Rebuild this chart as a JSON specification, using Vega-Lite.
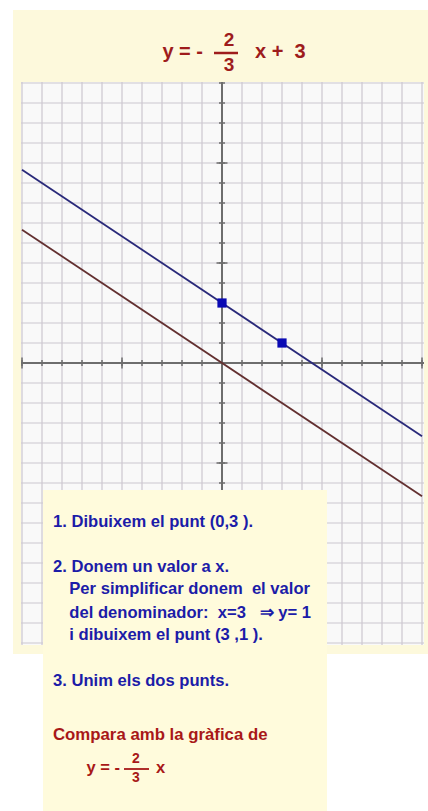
{
  "$schema": "https://vega.github.io/schema/vega-lite/v6.json",
  "width": 428,
  "height": 811,
  "padding": 0,
  "autosize": {"type": "fit", "contains": "padding"},
  "background": "#ffffff",
  "config": {"view": {"stroke": null}, "text": {"font": "Liberation Sans", "fontWeight": "bold"}},
  "datasets": {
    "gx": [{"v": -10}, {"v": -9}, {"v": -8}, {"v": -7}, {"v": -6}, {"v": -5}, {"v": -4}, {"v": -3}, {"v": -2}, {"v": -1}, {"v": 0}, {"v": 1}, {"v": 2}, {"v": 3}, {"v": 4}, {"v": 5}, {"v": 6}, {"v": 7}, {"v": 8}, {"v": 9}, {"v": 10}],
    "gy": [{"v": -14}, {"v": -13}, {"v": -12}, {"v": -11}, {"v": -10}, {"v": -9}, {"v": -8}, {"v": -7}, {"v": -6}, {"v": -5}, {"v": -4}, {"v": -3}, {"v": -2}, {"v": -1}, {"v": 0}, {"v": 1}, {"v": 2}, {"v": 3}, {"v": 4}, {"v": 5}, {"v": 6}, {"v": 7}, {"v": 8}, {"v": 9}, {"v": 10}, {"v": 11}, {"v": 12}, {"v": 13}, {"v": 14}],
    "lines": [
      {"s": "y = -2/3 x + 3", "x": -10, "y": 9.6667},
      {"s": "y = -2/3 x + 3", "x": 10, "y": -3.6667},
      {"s": "y = -2/3 x", "x": -10, "y": 6.6667},
      {"s": "y = -2/3 x", "x": 10, "y": -6.6667}
    ],
    "pts": [{"x": 0, "y": 3}, {"x": 3, "y": 1}]
  },
  "layer": [
    {
      "data": {"values": [{}]},
      "mark": {"type": "rect", "color": "#fdf9dc"},
      "encoding": {
        "x": {"datum": -10.45, "type": "quantitative", "axis": null, "scale": {"domain": [-11.1, 10.3], "nice": false, "zero": false}},
        "x2": {"datum": 10.3},
        "y": {"datum": 17.65, "type": "quantitative", "axis": null, "scale": {"domain": [-22.4, 18.15], "nice": false, "zero": false}},
        "y2": {"datum": -14.55}
      }
    },
    {
      "data": {"values": [{}]},
      "mark": {"type": "rect", "color": "#f9f9f9"},
      "encoding": {
        "x": {"datum": -10.05, "type": "quantitative", "axis": null, "scale": {"domain": [-11.1, 10.3], "nice": false, "zero": false}},
        "x2": {"datum": 10.1},
        "y": {"datum": 14.05, "type": "quantitative", "axis": null, "scale": {"domain": [-22.4, 18.15], "nice": false, "zero": false}},
        "y2": {"datum": -14.1}
      }
    },
    {
      "data": {"name": "gx"},
      "mark": {"type": "rule", "color": "#ccc7cf", "strokeWidth": 1.2},
      "encoding": {
        "x": {"field": "v", "type": "quantitative", "axis": null, "scale": {"domain": [-11.1, 10.3], "nice": false, "zero": false}},
        "y": {"datum": 14.05, "type": "quantitative", "axis": null, "scale": {"domain": [-22.4, 18.15], "nice": false, "zero": false}},
        "y2": {"datum": -14.1}
      }
    },
    {
      "data": {"name": "gy"},
      "mark": {"type": "rule", "color": "#ccc7cf", "strokeWidth": 1.2},
      "encoding": {
        "y": {"field": "v", "type": "quantitative", "axis": null, "scale": {"domain": [-22.4, 18.15], "nice": false, "zero": false}},
        "x": {"datum": -10.05, "type": "quantitative", "axis": null, "scale": {"domain": [-11.1, 10.3], "nice": false, "zero": false}},
        "x2": {"datum": 10.1}
      }
    },
    {
      "data": {"values": [{}]},
      "mark": {"type": "rule", "color": "#6e6e6e", "strokeWidth": 2},
      "encoding": {
        "x": {"datum": -10.05, "type": "quantitative", "axis": null, "scale": {"domain": [-11.1, 10.3], "nice": false, "zero": false}},
        "x2": {"datum": 10.1},
        "y": {"datum": 0, "type": "quantitative", "axis": null, "scale": {"domain": [-22.4, 18.15], "nice": false, "zero": false}}
      }
    },
    {
      "data": {"values": [{}]},
      "mark": {"type": "rule", "color": "#6e6e6e", "strokeWidth": 2},
      "encoding": {
        "x": {"datum": 0, "type": "quantitative", "axis": null, "scale": {"domain": [-11.1, 10.3], "nice": false, "zero": false}},
        "y": {"datum": 14.05, "type": "quantitative", "axis": null, "scale": {"domain": [-22.4, 18.15], "nice": false, "zero": false}},
        "y2": {"datum": -14.1}
      }
    },
    {
      "data": {"name": "gx"},
      "mark": {"type": "tick", "orient": "vertical", "color": "#6e6e6e", "size": 6, "thickness": 1.5, "opacity": 1},
      "encoding": {
        "x": {"field": "v", "type": "quantitative", "axis": null, "scale": {"domain": [-11.1, 10.3], "nice": false, "zero": false}},
        "y": {"datum": 0, "type": "quantitative", "axis": null, "scale": {"domain": [-22.4, 18.15], "nice": false, "zero": false}}
      }
    },
    {
      "data": {"name": "gx"},
      "transform": [{"filter": "datum.v % 5 === 0"}],
      "mark": {"type": "tick", "orient": "vertical", "color": "#6e6e6e", "size": 11, "thickness": 1.5, "opacity": 1},
      "encoding": {
        "x": {"field": "v", "type": "quantitative", "axis": null, "scale": {"domain": [-11.1, 10.3], "nice": false, "zero": false}},
        "y": {"datum": 0, "type": "quantitative", "axis": null, "scale": {"domain": [-22.4, 18.15], "nice": false, "zero": false}}
      }
    },
    {
      "data": {"name": "gy"},
      "mark": {"type": "tick", "orient": "horizontal", "color": "#6e6e6e", "size": 6, "thickness": 1.5, "opacity": 1},
      "encoding": {
        "y": {"field": "v", "type": "quantitative", "axis": null, "scale": {"domain": [-22.4, 18.15], "nice": false, "zero": false}},
        "x": {"datum": 0, "type": "quantitative", "axis": null, "scale": {"domain": [-11.1, 10.3], "nice": false, "zero": false}}
      }
    },
    {
      "data": {"name": "gy"},
      "transform": [{"filter": "datum.v % 5 === 0"}],
      "mark": {"type": "tick", "orient": "horizontal", "color": "#6e6e6e", "size": 11, "thickness": 1.5, "opacity": 1},
      "encoding": {
        "y": {"field": "v", "type": "quantitative", "axis": null, "scale": {"domain": [-22.4, 18.15], "nice": false, "zero": false}},
        "x": {"datum": 0, "type": "quantitative", "axis": null, "scale": {"domain": [-11.1, 10.3], "nice": false, "zero": false}}
      }
    },
    {
      "data": {"name": "lines"},
      "mark": {"type": "line", "strokeWidth": 1.8},
      "encoding": {
        "x": {"field": "x", "type": "quantitative", "axis": null, "scale": {"domain": [-11.1, 10.3], "nice": false, "zero": false}},
        "y": {"field": "y", "type": "quantitative", "axis": null, "scale": {"domain": [-22.4, 18.15], "nice": false, "zero": false}},
        "color": {"field": "s", "type": "nominal", "legend": null, "scale": {"domain": ["y = -2/3 x + 3", "y = -2/3 x"], "range": ["#29297a", "#633030"]}}
      }
    },
    {
      "data": {"name": "pts"},
      "mark": {"type": "point", "shape": "square", "filled": true, "size": 85, "color": "#0a0ab4", "opacity": 1},
      "encoding": {
        "x": {"field": "x", "type": "quantitative", "axis": null, "scale": {"domain": [-11.1, 10.3], "nice": false, "zero": false}},
        "y": {"field": "y", "type": "quantitative", "axis": null, "scale": {"domain": [-22.4, 18.15], "nice": false, "zero": false}}
      }
    },
    {
      "data": {"values": [{}]},
      "mark": {"type": "rect", "color": "#fffbdc"},
      "encoding": {
        "x": {"datum": -8.95, "type": "quantitative", "axis": null, "scale": {"domain": [-11.1, 10.3], "nice": false, "zero": false}},
        "x2": {"datum": 5.25},
        "y": {"datum": -6.35, "type": "quantitative", "axis": null, "scale": {"domain": [-22.4, 18.15], "nice": false, "zero": false}},
        "y2": {"datum": -22.4}
      }
    },
    {
      "data": {"values": [{}]},
      "mark": {"type": "text", "text": "y = -", "align": "right", "baseline": "middle", "fontSize": 20, "color": "#9e1c1c"},
      "encoding": {
        "x": {"datum": -0.95, "type": "quantitative", "axis": null, "scale": {"domain": [-11.1, 10.3], "nice": false, "zero": false}},
        "y": {"datum": 15.55, "type": "quantitative", "axis": null, "scale": {"domain": [-22.4, 18.15], "nice": false, "zero": false}}
      }
    },
    {
      "data": {"values": [{}]},
      "mark": {"type": "text", "text": "2", "align": "center", "baseline": "middle", "fontSize": 19, "color": "#9e1c1c"},
      "encoding": {
        "x": {"datum": 0.35, "type": "quantitative", "axis": null, "scale": {"domain": [-11.1, 10.3], "nice": false, "zero": false}},
        "y": {"datum": 16.15, "type": "quantitative", "axis": null, "scale": {"domain": [-22.4, 18.15], "nice": false, "zero": false}}
      }
    },
    {
      "data": {"values": [{}]},
      "mark": {"type": "text", "text": "3", "align": "center", "baseline": "middle", "fontSize": 19, "color": "#9e1c1c"},
      "encoding": {
        "x": {"datum": 0.35, "type": "quantitative", "axis": null, "scale": {"domain": [-11.1, 10.3], "nice": false, "zero": false}},
        "y": {"datum": 14.925, "type": "quantitative", "axis": null, "scale": {"domain": [-22.4, 18.15], "nice": false, "zero": false}}
      }
    },
    {
      "data": {"values": [{}]},
      "mark": {"type": "rule", "color": "#9e1c1c", "strokeWidth": 2.5},
      "encoding": {
        "x": {"datum": -0.4, "type": "quantitative", "axis": null, "scale": {"domain": [-11.1, 10.3], "nice": false, "zero": false}},
        "x2": {"datum": 0.8},
        "y": {"datum": 15.5, "type": "quantitative", "axis": null, "scale": {"domain": [-22.4, 18.15], "nice": false, "zero": false}},
        "y2": {"datum": 15.5}
      }
    },
    {
      "data": {"values": [{}]},
      "mark": {"type": "text", "text": "x\u00a0+\u00a0\u00a03", "align": "left", "baseline": "middle", "fontSize": 20, "color": "#9e1c1c"},
      "encoding": {
        "x": {"datum": 1.65, "type": "quantitative", "axis": null, "scale": {"domain": [-11.1, 10.3], "nice": false, "zero": false}},
        "y": {"datum": 15.55, "type": "quantitative", "axis": null, "scale": {"domain": [-22.4, 18.15], "nice": false, "zero": false}}
      }
    },
    {
      "data": {"values": [{}]},
      "mark": {"type": "text", "text": "1. Dibuixem el punt (0,3 ).", "align": "left", "baseline": "middle", "fontSize": 16.6, "color": "#1c1ca8"},
      "encoding": {
        "x": {"datum": -8.45, "type": "quantitative", "axis": null, "scale": {"domain": [-11.1, 10.3], "nice": false, "zero": false}},
        "y": {"datum": -7.935, "type": "quantitative", "axis": null, "scale": {"domain": [-22.4, 18.15], "nice": false, "zero": false}}
      }
    },
    {
      "data": {"values": [{}]},
      "mark": {"type": "text", "text": "2. Donem un valor a x.", "align": "left", "baseline": "middle", "fontSize": 16.6, "color": "#1c1ca8"},
      "encoding": {
        "x": {"datum": -8.45, "type": "quantitative", "axis": null, "scale": {"domain": [-11.1, 10.3], "nice": false, "zero": false}},
        "y": {"datum": -10.185, "type": "quantitative", "axis": null, "scale": {"domain": [-22.4, 18.15], "nice": false, "zero": false}}
      }
    },
    {
      "data": {"values": [{}]},
      "mark": {"type": "text", "text": "Per simplificar donem\u00a0 el valor", "align": "left", "baseline": "middle", "fontSize": 16.6, "color": "#1c1ca8"},
      "encoding": {
        "x": {"datum": -7.635, "type": "quantitative", "axis": null, "scale": {"domain": [-11.1, 10.3], "nice": false, "zero": false}},
        "y": {"datum": -11.315, "type": "quantitative", "axis": null, "scale": {"domain": [-22.4, 18.15], "nice": false, "zero": false}}
      }
    },
    {
      "data": {"values": [{}]},
      "mark": {"type": "text", "text": "del denominador:\u00a0 x=3\u00a0\u00a0 ⇒ y= 1", "align": "left", "baseline": "middle", "fontSize": 16.6, "color": "#1c1ca8"},
      "encoding": {
        "x": {"datum": -7.635, "type": "quantitative", "axis": null, "scale": {"domain": [-11.1, 10.3], "nice": false, "zero": false}},
        "y": {"datum": -12.485, "type": "quantitative", "axis": null, "scale": {"domain": [-22.4, 18.15], "nice": false, "zero": false}}
      }
    },
    {
      "data": {"values": [{}]},
      "mark": {"type": "text", "text": "i dibuixem el punt (3 ,1 ).", "align": "left", "baseline": "middle", "fontSize": 16.6, "color": "#1c1ca8"},
      "encoding": {
        "x": {"datum": -7.635, "type": "quantitative", "axis": null, "scale": {"domain": [-11.1, 10.3], "nice": false, "zero": false}},
        "y": {"datum": -13.6, "type": "quantitative", "axis": null, "scale": {"domain": [-22.4, 18.15], "nice": false, "zero": false}}
      }
    },
    {
      "data": {"values": [{}]},
      "mark": {"type": "text", "text": "3. Unim els dos punts.", "align": "left", "baseline": "middle", "fontSize": 16.6, "color": "#1c1ca8"},
      "encoding": {
        "x": {"datum": -8.45, "type": "quantitative", "axis": null, "scale": {"domain": [-11.1, 10.3], "nice": false, "zero": false}},
        "y": {"datum": -15.9, "type": "quantitative", "axis": null, "scale": {"domain": [-22.4, 18.15], "nice": false, "zero": false}}
      }
    },
    {
      "data": {"values": [{}]},
      "mark": {"type": "text", "text": "Compara amb la gràfica de", "align": "left", "baseline": "middle", "fontSize": 16.8, "color": "#a81818"},
      "encoding": {
        "x": {"datum": -8.45, "type": "quantitative", "axis": null, "scale": {"domain": [-11.1, 10.3], "nice": false, "zero": false}},
        "y": {"datum": -18.6, "type": "quantitative", "axis": null, "scale": {"domain": [-22.4, 18.15], "nice": false, "zero": false}}
      }
    },
    {
      "data": {"values": [{}]},
      "mark": {"type": "text", "text": "y = -", "align": "right", "baseline": "middle", "fontSize": 16.5, "color": "#a81818"},
      "encoding": {
        "x": {"datum": -5.1, "type": "quantitative", "axis": null, "scale": {"domain": [-11.1, 10.3], "nice": false, "zero": false}},
        "y": {"datum": -20.25, "type": "quantitative", "axis": null, "scale": {"domain": [-22.4, 18.15], "nice": false, "zero": false}}
      }
    },
    {
      "data": {"values": [{}]},
      "mark": {"type": "text", "text": "2", "align": "center", "baseline": "middle", "fontSize": 14, "color": "#a81818"},
      "encoding": {
        "x": {"datum": -4.3, "type": "quantitative", "axis": null, "scale": {"domain": [-11.1, 10.3], "nice": false, "zero": false}},
        "y": {"datum": -19.8, "type": "quantitative", "axis": null, "scale": {"domain": [-22.4, 18.15], "nice": false, "zero": false}}
      }
    },
    {
      "data": {"values": [{}]},
      "mark": {"type": "text", "text": "3", "align": "center", "baseline": "middle", "fontSize": 14, "color": "#a81818"},
      "encoding": {
        "x": {"datum": -4.3, "type": "quantitative", "axis": null, "scale": {"domain": [-11.1, 10.3], "nice": false, "zero": false}},
        "y": {"datum": -20.75, "type": "quantitative", "axis": null, "scale": {"domain": [-22.4, 18.15], "nice": false, "zero": false}}
      }
    },
    {
      "data": {"values": [{}]},
      "mark": {"type": "rule", "color": "#a81818", "strokeWidth": 1.8},
      "encoding": {
        "x": {"datum": -4.9, "type": "quantitative", "axis": null, "scale": {"domain": [-11.1, 10.3], "nice": false, "zero": false}},
        "x2": {"datum": -3.65},
        "y": {"datum": -20.3, "type": "quantitative", "axis": null, "scale": {"domain": [-22.4, 18.15], "nice": false, "zero": false}},
        "y2": {"datum": -20.3}
      }
    },
    {
      "data": {"values": [{}]},
      "mark": {"type": "text", "text": "x", "align": "left", "baseline": "middle", "fontSize": 16.5, "color": "#a81818"},
      "encoding": {
        "x": {"datum": -3.3, "type": "quantitative", "axis": null, "scale": {"domain": [-11.1, 10.3], "nice": false, "zero": false}},
        "y": {"datum": -20.25, "type": "quantitative", "axis": null, "scale": {"domain": [-22.4, 18.15], "nice": false, "zero": false}}
      }
    }
  ]
}
